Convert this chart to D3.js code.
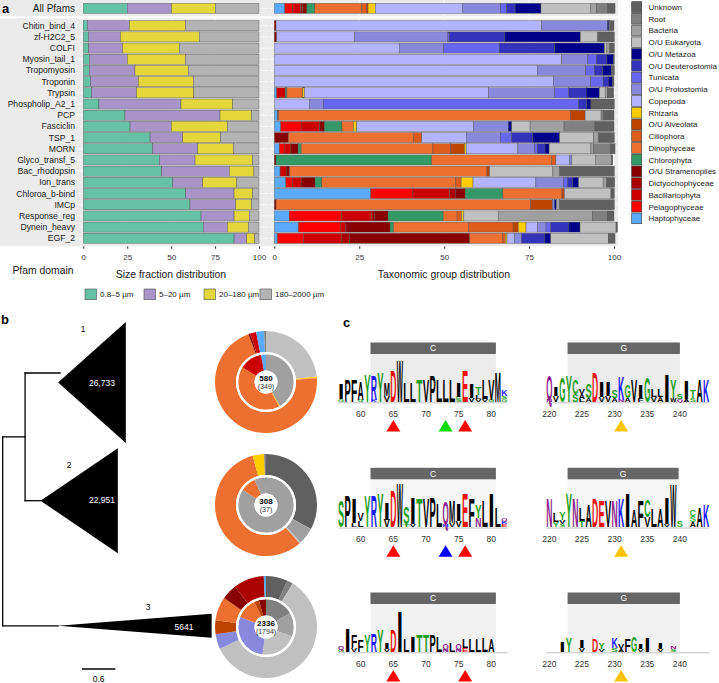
<!DOCTYPE html>
<html><head><meta charset="utf-8">
<script src="https://cdn.jsdelivr.net/npm/d3@7"></script>
<style>body{margin:0;background:#fff} svg{font-family:"Liberation Sans",Arial,Helvetica,sans-serif}</style>
</head><body><svg id="c" width="719" height="683"></svg>
<script>
// ---------------- DATA ----------------
const pfams=["Chitin_bind_4","zf-H2C2_5","COLFI","Myosin_tail_1","Tropomyosin","Troponin","Trypsin","Phospholip_A2_1","PCP","Fasciclin","TSP_1","MORN","Glyco_transf_5","Bac_rhodopsin","Ion_trans","Chloroa_b-bind","IMCp","Response_reg","Dynein_heavy","EGF_2"];
const sizeClasses=["0.8–5 µm","5–20 µm","20–180 µm","180–2000 µm"];
const sizeColors=["#66c2a5","#a994c9","#e3d73b","#b3b3b3"];
const sizeAll=[25.0,25.2,25.0,24.8];
const sizeValues=[[2.3,23.9,31.9,41.9],[2.8,18.4,44.8,34.0],[3.0,19.4,32.3,45.3],[3.4,21.6,33.0,42.0],[3.4,26.0,30.4,40.2],[4.2,27.1,31.3,37.4],[4.7,25.6,32.6,37.1],[8.9,46.7,29.4,15.0],[23.7,54.1,18.0,4.2],[26.6,23.5,31.9,18.0],[38.0,18.6,21.6,21.8],[39.5,25.6,20.3,14.6],[43.3,20.3,32.8,3.6],[44.6,38.5,14.0,2.9],[50.9,17.1,19.4,12.6],[58.3,27.5,10.6,3.6],[60.7,26.0,9.1,4.2],[67.0,18.8,8.7,5.5],[68.3,13.7,12.0,6.0],[85.8,7.2,4.6,2.4]];
const taxa=["Haptophyceae","Pelagophyceae","Bacillariophyta","Dictyochophyceae","O/U Stramenopiles","Chlorophyta","Dinophyceae","Ciliophora","O/U Alveolata","Rhizaria","Copepoda","O/U Protostomia","Tunicata","O/U Deuterostomia","O/U Metazoa","O/U Eukaryota","Bacteria","Root","Unknown"];
const taxaColors=["#5aabff","#ff0000","#cc0000","#aa0000","#880000","#339966","#ee7030","#dd5c1c","#bb4400","#ffcc00","#b3b3ff","#8888dd","#6666ee","#3333bb","#00008b","#c0c0c0","#a0a0a0","#808080","#606060"];
const taxAll=[3.1,2.3,2.4,0.6,1.2,2.3,13.9,1.3,0.5,2.2,25.7,11.1,1.8,2.5,7.6,14.5,1.8,3.3,2.2];
const taxValues=[
[0,0,0,0,0.5,0,0,0,0,0,78.2,19.4,0,0,0.4,0,0.3,0,1.2],
[0,0,0,0,0.7,0,0,0,0,0,22.9,27.5,0.4,16.3,22.3,5.1,0,0,4.9],
[0,0,0,0,0,0,0,0,0,0,36.8,13.0,16.4,16.3,14.7,0.7,0.8,0,1.4],
[0,0,0,0,0,0,0,0,0,0,84.6,7.7,2.5,3.1,2.0,0,0,0,0.2],
[0,0,0,0,0,0,0,0,0,0,77.4,14.3,2.5,2.5,2.5,0,0,0,0.9],
[0,0,0,0,0,0,0,0,0,0,82.1,11.0,3.7,1.5,1.3,0,0,0,0.4],
[0.7,0,2.5,0,0,0.5,4.7,0,0,0.5,54.2,19.4,4.2,5.1,3.9,1.7,0.6,0,1.9],
[0,0,0,0,0,0,0,0,0,0,10.3,4.1,75.1,2.5,1.2,0,0,0,6.9],
[1.0,0,0,0,0.2,0,85.9,0,4.4,0,0,0,0,0,0,4.7,0,0.7,3.1],
[1.9,6.0,5.4,0,1.5,5.1,3.4,0,0,1.0,34.3,10.3,0,0,1.0,5.4,10.0,9.1,5.6],
[0,0,0,0,4.1,0,37.0,2.3,0,0,13.1,10.0,3.4,6.2,7.9,10.0,1.5,0,4.6],
[1.5,1.4,2.0,0,2.1,0.9,38.8,5.2,4.1,0.5,15.2,4.9,0.8,2.3,1.2,12.3,0.8,4.9,1.4],
[0,0,0,0,0.5,45.8,35.3,1.3,0,0,4.1,0.6,0,0,0,6.9,4.7,0,0.4],
[1.7,0,1.8,0,1.0,0,58.1,0,0.8,0,0,0,0,0,0,18.6,2.0,0,16.1],
[3.4,1.9,2.6,0,4.1,2.0,39.3,1.7,0,3.5,18.5,8.1,1.2,1.5,1.8,7.2,1.0,0,2.4],
[28.4,12.4,10.8,1.7,2.9,11.1,17.4,0,0.7,0,0,0,0,0,0,13.7,0,0,1.0],
[0,0,0,0,0.5,0,75.0,0,6.4,0,0,0.6,0,0,0.5,0,1.0,0,16.1],
[4.4,15.4,8.8,0.8,4.1,16.2,4.1,1.3,0,0.7,0,0,0,0,0,10.1,27.7,4.4,2.0],
[7.1,12.3,1.5,0,13.2,1.0,22.1,13.1,1.5,2.3,3.3,2.6,1.4,5.2,3.4,10.6,0,0,0.4],
[0.9,7.7,11.3,2.3,35.3,0,9.8,0.7,0,0.5,2.2,2.1,0,6.8,1.8,16.9,0,0,2.0]];
const pctTicks=[0,25,50,75,100];

// tree (branch lengths in substitutions/site)
const cladeNames=["1","2","3"];
const cladeCounts=["26,733","22,951","5641"];
const cladeStem=[0.62,0.29,1.04];
const cladeDepth=[1.27,1.45,2.88];
const innerBranch=0.42;
const scaleBarLen=0.6;

// donuts: [taxon, %]
const donutTotals=["580","308","2336"];
const donutSubs=["(349)","(37)","(1794)"];
const donutOuter=[
 [["O/U Eukaryota",23.3],["Rhizaria",0.5],["Dinophyceae",70.6],["O/U Stramenopiles",0.6],["Bacillariophyta",1.9],["Haptophyceae",2.5],["Root",0.6]],
 [["Unknown",32.8],["Bacteria",5.3],["O/U Eukaryota",0.5],["Dinophyceae",57.2],["Rhizaria",3.6],["Root",0.6]],
 [["Unknown",6.9],["Root",1.9],["O/U Eukaryota",59.2],["O/U Protostomia",4.7],["O/U Alveolata",4.4],["Dinophyceae",7.5],["O/U Stramenopiles",5.0],["Dictyochophyceae",9.7],["Haptophyceae",0.7]]];
const donutInner=[
 [["Bacteria",41.7],["Rhizaria",0.5],["Dinophyceae",41.7],["Bacillariophyta",13.3],["Haptophyceae",2.8]],
 [["Bacteria",84.2],["Dinophyceae",8.9],["Bacteria",6.4],["Root",0.5]],
 [["Root",16.7],["Bacteria",13.9],["O/U Eukaryota",21.4],["O/U Protostomia",28.9],["Dinophyceae",12.2],["O/U Alveolata",2.8],["O/U Stramenopiles",4.1]]];

// sequence logos: column = letters bottom->top with height in bits
const logoC1={start:57,cols:["G.3 I1.5","P2.1","F2.1","G.2 A1.8","Y2.7","K.2 R2.4","Y2.9","V.6 M1.3","D3.1","W4.1","L1.9","L1.9","T2.2","V2.2","P2.6","L2.1","L2.1","L2.1","S.3 C.2 I1.4","E3.1","V.4 I1.4","V.3 L.4 T.8","V.3 L1.9","G.2 V2.0","M2.9","G.3 S.3 K.6"]};
const logoG1={start:220,cols:["N.2 Q2.4","V.6 I.9","G2.4","Y2.6","S.8 C1.4","L.3 A.5 V.5","A.4 S1.4","D2.9","V.5 I1.5","V.6 I1.4","A.4 S.8","N.2 K2.3","A.4 G1.3","V2.1","F.4 I1.2","G2.4","V.5 L.8","A.5 L.7","I2.7","W.4 Y1.8","Q.3 S.5","A.3 I1.8","S.4 T.7","A2.1","K2.1"]};
const logoC2={start:57,cols:["S2.6","P3.0","L.4 I2.4","L.6 V.8","Y3.1","R3.0","Y3.3","V.7 I1.7","D3.5","W4.3","T.3 S1.6","V.3 I2.6","T2.8","V2.8","P2.9","L2.3","H.3 Q2.1","V.4 M2.2","V.6 I1.6","E3.3","F2.8","N.9 Y1.2","L2.5","I3.3","L1.9","E.3 K.3 Q.3"]};
const logoG2={start:220,cols:["N2.8","Y.5 L.9","S.3 V.4 Y.7","Y3.3","N2.8","T.6 L1.3","A2.1","D2.8","E2.6","V2.6","N2.6","K2.8","I3.3","A1.6","F2.6","V1.0 C1.6","L1.8","A1.8","V.3 I2.5","W4.2","S.6","","A.5 S.6 C.6","A1.9","K2.1"]};
const logoC3={start:57,cols:["G.2 Q.4","I2.3","V.4 F1.2","F1.1","Y1.7","R1.8","Y2.1","V.3 I.6","D2.1","I3.9","L1.3","I1.5","T1.6","T1.6","P1.7","L1.5","N.3 Q.5","L.9","N.3 Q.5","E.4 L.9","L1.2","L1.3","L1.4","A1.3","",""]};
const logoG3={start:220,cols:["",".","I1.0","Y1.4","","V.4 I.7","","D1.3","V.3 Y.6","","S.4 K1.0","A.3 V.5","F1.3","G1.5","V.3 I.5","I1.4","","V.3 I.6","","S.3 N.3","","","","",""]};
const logoMarks=[[[65,"#ff0000"],[73,"#00dd00"],[76,"#ff0000"]],[[231,"#ffc400"]],[[65,"#ff0000"],[73,"#0000ff"],[76,"#ff0000"]],[[231,"#ffc400"]],[[65,"#ff0000"],[76,"#ff0000"]],[[231,"#ffc400"]]];
const logoTicksC=[60,65,70,75,80], logoTicksG=[220,225,230,235,240];

// ---------------- DRAW ----------------
const svg=d3.select("#c");
const taxColor=d3.scaleOrdinal(taxa,taxaColors);

// ===== panel a =====
const gA=svg.append("g");
const BG="#ebebeb";
gA.append("rect").attr("x",0).attr("y",0).attr("width",618).attr("height",16.3).attr("fill",BG);
gA.append("rect").attr("x",0).attr("y",18.3).attr("width",618).attr("height",228).attr("fill",BG);
const xSize=d3.scaleLinear([0,100],[83.3,259]);
const xTax=d3.scaleLinear([0,100],[274.3,614]);
const yB=d3.scaleBand(pfams,[20.1,243.9]).paddingInner(0.1).paddingOuter(0.05);
const yAllB=d3.scaleBand(["All Pfams"],[3.3,13.3]);
// gridlines
[[xSize,74.5,268],[xTax,270,618]].forEach(([xs,a,b])=>{
  pctTicks.forEach(t=>{
    gA.append("line").attr("x1",xs(t)).attr("x2",xs(t)).attr("y1",0).attr("y2",16.3).attr("stroke","#fff").attr("stroke-width",0.7);
    gA.append("line").attr("x1",xs(t)).attr("x2",xs(t)).attr("y1",18.3).attr("y2",246.3).attr("stroke","#fff").attr("stroke-width",0.7);
  });
  pfams.forEach(p=>gA.append("line").attr("x1",a).attr("x2",b).attr("y1",yB(p)+yB.bandwidth()/2).attr("y2",yB(p)+yB.bandwidth()/2).attr("stroke","#fff").attr("stroke-width",0.7));
  gA.append("line").attr("x1",a).attr("x2",b).attr("y1",8.3).attr("y2",8.3).attr("stroke","#fff").attr("stroke-width",0.7);
});
function stackRow(vals,xs,y,h,colors){
  let acc=0;
  vals.forEach((v,i)=>{ if(v<=0)return;
    gA.append("rect").attr("x",xs(acc)).attr("y",y).attr("width",xs(acc+v)-xs(acc)).attr("height",h)
      .attr("fill",colors(i)).attr("stroke","#4d4d4d").attr("stroke-width",0.4);
    acc+=v; });
}
stackRow(sizeAll,xSize,yAllB("All Pfams"),yAllB.bandwidth(),i=>sizeColors[i]);
stackRow(taxAll,xTax,yAllB("All Pfams"),yAllB.bandwidth(),i=>taxaColors[i]);
pfams.forEach((p,k)=>{
  stackRow(sizeValues[k],xSize,yB(p),yB.bandwidth(),i=>sizeColors[i]);
  stackRow(taxValues[k],xTax,yB(p),yB.bandwidth(),i=>taxaColors[i]);
});
// y labels
gA.append("text").attr("x",75).attr("y",yAllB("All Pfams")+5).attr("dy","0.35em").attr("text-anchor","end").attr("font-size",10).attr("fill","#1a1a1a").text("All Pfams");
pfams.forEach(p=>gA.append("text").attr("x",75).attr("y",yB(p)+yB.bandwidth()/2).attr("dy","0.35em").attr("text-anchor","end").attr("font-size",8.6).attr("fill","#1a1a1a").text(p));
// x axes
[[xSize],[xTax]].forEach(([xs])=>{
  const ax=gA.append("g").attr("transform","translate(0,246.3)").call(d3.axisBottom(xs).tickValues(pctTicks).tickSize(2.5).tickPadding(6));
  ax.select(".domain").remove();
  ax.selectAll("text").attr("font-size",8).attr("fill","#333").style("font-family","Liberation Sans, Arial");
  ax.selectAll("line").attr("stroke","#333");
});
gA.append("text").attr("x",43).attr("y",274).attr("text-anchor","middle").attr("font-size",10.4).attr("fill","#1a1a1a").text("Pfam domain");
gA.append("text").attr("x",171).attr("y",278).attr("text-anchor","middle").attr("font-size",10.4).attr("fill","#1a1a1a").text("Size fraction distribution");
gA.append("text").attr("x",444).attr("y",278).attr("text-anchor","middle").attr("font-size",10.4).attr("fill","#1a1a1a").text("Taxonomic group distribution");
gA.append("text").attr("x",2).attr("y",12.5).attr("font-size",13).attr("font-weight","bold").text("a");
// size legend
const sizeLegX=[85,144,204,260];
sizeClasses.forEach((s,i)=>{
  gA.append("rect").attr("x",sizeLegX[i]).attr("y",289).attr("width",11.5).attr("height",10.7).attr("fill",sizeColors[i]).attr("stroke","#4d4d4d").attr("stroke-width",0.6);
  gA.append("text").attr("x",sizeLegX[i]+15).attr("y",294.5).attr("dy","0.35em").attr("font-size",8).attr("fill","#1a1a1a").text(s);
});
// taxa legend
const legOrder=taxa.slice().reverse();
legOrder.forEach((t,i)=>{
  const y=1.7+i*11.74;
  gA.append("rect").attr("x",631.7).attr("y",y).attr("width",10).attr("height",10.7).attr("fill",taxColor(t)).attr("stroke","#333").attr("stroke-width",0.6);
  gA.append("text").attr("x",648.5).attr("y",y+5.5).attr("dy","0.35em").attr("font-size",8).attr("fill","#1a1a1a").text(t);
});

// ===== panel b =====
const gB=svg.append("g");
gB.append("text").attr("x",1).attr("y",324).attr("font-size",13).attr("font-weight","bold").text("b");
const tx=d3.scaleLinear([0,1],[2.7,2.7+53.3]);
const ty=d3.scaleLinear([0,1],[373,500.7]);
const cladeRow=[0,1,1.98];
const triCenter=[0.075,0,0];
const triHalf=[0.474,0.411,0.094];
const line=(x1,y1,x2,y2)=>gB.append("line").attr("x1",x1).attr("y1",y1).attr("x2",x2).attr("y2",y2).attr("stroke","#000").attr("stroke-width",1.3).attr("stroke-linecap","square");
line(tx(0),ty(0.5),tx(innerBranch),ty(0.5));
line(tx(0),ty(0.5),tx(0),ty(cladeRow[2]));
line(tx(innerBranch),ty(0),tx(innerBranch),ty(1));
const cladeBase=[innerBranch,innerBranch,0];
cladeNames.forEach((c,i)=>{
  const x0=tx(cladeBase[i]), xa=tx(cladeBase[i]+cladeStem[i]), xr=tx(cladeBase[i]+cladeStem[i]+cladeDepth[i]);
  line(x0,ty(cladeRow[i]),xa+(i==0?2:0),ty(cladeRow[i]));
  const yc=ty(cladeRow[i]+triCenter[i]), hh=triHalf[i]*127.7;
  gB.append("path").attr("d",`M${xa},${yc}L${xr},${yc-hh}L${xr},${yc+hh}Z`).attr("fill","#000");
});
const cladeLabelXY=[[83,332],[69,468],[148,610]];
const cladeCountXY=[[102,383],[102,500.5],[184,627]];
cladeNames.forEach((c,i)=>{
  gB.append("text").attr("x",cladeLabelXY[i][0]).attr("y",cladeLabelXY[i][1]).attr("text-anchor","middle").attr("font-size",8.5).text(c);
  gB.append("text").attr("x",cladeCountXY[i][0]).attr("y",cladeCountXY[i][1]).attr("dy","0.35em").attr("text-anchor","middle").attr("font-size",8.5).attr("fill","#fff").text(cladeCounts[i]);
});
line(tx(1.5),669,tx(1.5+scaleBarLen),669);
gB.append("text").attr("x",(tx(1.5)+tx(1.5+scaleBarLen))/2).attr("y",682).attr("text-anchor","middle").attr("font-size",8.5).text(String(scaleBarLen));

// donuts
const donutCY=[382,505,627];
const pie=d3.pie().sort(null).value(d=>d[1]);
const arcOut=d3.arc().innerRadius(30).outerRadius(51);
const arcIn=d3.arc().innerRadius(11.5).outerRadius(27.8);
donutCY.forEach((cy,i)=>{
  const g=gB.append("g").attr("transform",`translate(266,${cy})`);
  g.selectAll(".o").data(pie(donutOuter[i])).join("path").attr("d",arcOut).attr("fill",d=>taxColor(d.data[0]));
  g.selectAll(".n").data(pie(donutInner[i])).join("path").attr("d",arcIn).attr("fill",d=>taxColor(d.data[0]));
  g.append("circle").attr("r",28.9).attr("fill","none").attr("stroke","#fff").attr("stroke-width",2.2);
  g.append("circle").attr("r",11.5).attr("fill","#fff");
  g.append("text").attr("y",-1).attr("text-anchor","middle").attr("font-size",8).attr("font-weight","bold").text(donutTotals[i]);
  g.append("text").attr("y",7).attr("text-anchor","middle").attr("font-size",7).attr("fill","#333").text(donutSubs[i]);
});

// ===== panel c =====
const gC=svg.append("g");
gC.append("text").attr("x",343).attr("y",327).attr("font-size",13).attr("font-weight","bold").text("c");
const LOGOFONT='"Liberation Sans", Arial, sans-serif';
const adv={};
const tmp=svg.append("text").attr("font-size",100).attr("font-weight","bold").style("font-family",LOGOFONT);
"ACDEFGHIKLMNPQRSTVWY".split("").forEach(l=>{tmp.text(l);adv[l]=tmp.node().getComputedTextLength();});
tmp.remove();
const aaColor=l=>"GSTYC".includes(l)?"#1f9e1f":"QN".includes(l)?"#8b1a8b":"KRH".includes(l)?"#1a1aff":"DE".includes(l)?"#ee1111":"#000";
const bits=d3.scaleLinear([0,4.32],[0,45]);
function drawLogo(logo,x60,ref,base,ticks,hdr,label,marks,shade){
  const xs=d3.scaleLinear([ref,ref+5],[x60,x60+32.65]);
  const step=xs(1)-xs(0);
  gC.append("rect").attr("x",xs(hdr[0])).attr("y",base-48).attr("width",xs(hdr[1])-xs(hdr[0])).attr("height",48).attr("fill",shade);
  gC.append("rect").attr("x",xs(hdr[0])).attr("y",base-59.5).attr("width",xs(hdr[1])-xs(hdr[0])).attr("height",11.5).attr("fill","#666");
  gC.append("text").attr("x",(xs(hdr[0])+xs(hdr[1]))/2).attr("y",base-53.7).attr("dy","0.35em").attr("text-anchor","middle").attr("font-size",8.5).attr("fill","#fff").text(label);
  const n=logo.cols.length;
  gC.append("line").attr("x1",xs(logo.start)-step/2).attr("x2",xs(logo.start+n-1)+step/2).attr("y1",base+0.8).attr("y2",base+0.8).attr("stroke","#aaa").attr("stroke-width",0.7);
  logo.cols.forEach((c,j)=>{
    const cx=xs(logo.start+j); let y=base;
    c.split(" ").filter(s=>s.length>1).forEach(s=>{
      const L=s[0], h=bits(+s.slice(1)); if(h<=0)return;
      const w=step*0.95;
      gC.append("text").attr("font-size",100).attr("font-weight","bold").style("font-family",LOGOFONT)
        .attr("fill",aaColor(L)).attr("transform",`translate(${cx-w/2},${y}) scale(${w/adv[L]},${h/71.6})`).text(L);
      y-=h;
    });
  });
  ticks.forEach(t=>gC.append("text").attr("x",xs(t)).attr("y",base+15).attr("text-anchor","middle").attr("font-size",8.5).attr("fill","#333").text(t));
  marks.forEach(([p,col])=>{
    const x=xs(p);
    gC.append("path").attr("d",`M${x-7},${base+29.5}L${x+7},${base+29.5}L${x},${base+18}Z`).attr("fill",col);
  });
}
const rowBase=[402,527.3,652];
drawLogo(logoC1,360.7,60,rowBase[0],logoTicksC,[61.5,80.7],"C",logoMarks[0],"#ececec");
drawLogo(logoG1,549.3,220,rowBase[0],logoTicksG,[222.8,240],"G",logoMarks[1],"#ececec");
drawLogo(logoC2,360.7,60,rowBase[1],logoTicksC,[61.5,80.7],"C",logoMarks[2],"#f6f6f6");
drawLogo(logoG2,549.3,220,rowBase[1],logoTicksG,[222.8,239.8],"G",logoMarks[3],"#f6f6f6");
drawLogo(logoC3,360.7,60,rowBase[2],logoTicksC,[61.5,80.7],"C",logoMarks[4],"#f2f2f2");
drawLogo(logoG3,549.3,220,rowBase[2],logoTicksG,[222.8,240],"G",logoMarks[5],"#f2f2f2");
</script></body></html>
